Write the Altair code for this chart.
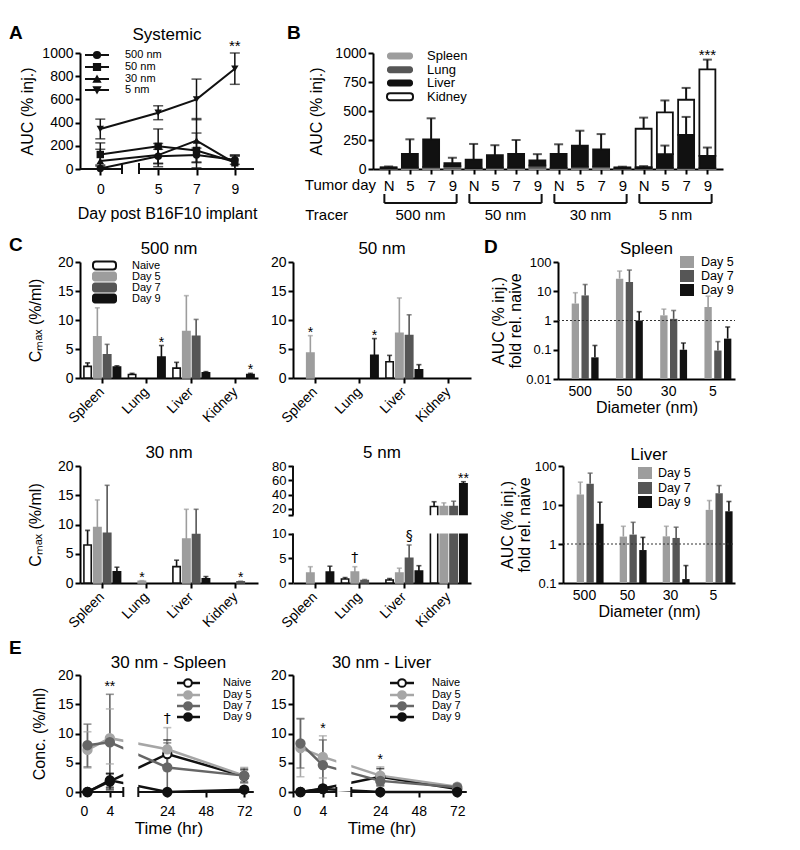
import altair as alt
import pandas as pd

FONT = "Liberation Sans"
SYMFONT = "DejaVu Sans"
WHITE = "#ffffff"
LIGHT = "#9d9d9d"
DARK = "#565656"
BLACK = "#111111"

# ---------------- Panel A : systemic AUC ----------------
A_days = [0, 5, 7, 9]
A_series = ["500 nm", "50 nm", "30 nm", "5 nm"]
A_shapes = ["circle", "square", "triangle-up", "triangle-down"]
A_mean_500 = [5, 110, 120, 80]
A_sd_500 = [30, 60, 60, 40]
A_mean_50 = [125, 195, 160, 60]
A_sd_50 = [100, 150, 150, 60]
A_mean_30 = [70, 120, 245, 50]
A_sd_30 = [100, 100, 190, 60]
A_mean_5 = [345, 485, 600, 865]
A_sd_5 = [85, 60, 175, 135]
A_marks = [("5 nm", 9, "**")]

# ---------------- Panel B : organ AUC stacked ----------------
B_tracers = ["500 nm", "50 nm", "30 nm", "5 nm"]
B_days = ["N", "5", "7", "9"]
B_organs = ["Spleen", "Lung", "Liver", "Kidney"]
B_spleen = [3, 8, 10, 5, 3, 8, 8, 10, 5, 10, 12, 2, 3, 5, 5, 3]
B_lung = [2, 5, 8, 20, 5, 5, 5, 20, 5, 10, 10, 3, 2, 5, 5, 5]
B_liver = [10, 118, 238, 26, 72, 106, 118, 44, 121, 182, 148, 9, 10, 118, 285, 106]
B_kidney = [0, 0, 0, 0, 0, 0, 0, 0, 0, 0, 0, 0, 332, 361, 302, 744]
B_liver_err = [None] * 12 + [25, 202, 449, 185]
B_total_err = [22, 256, 437, 97, 216, 205, 250, 128, 213, 330, 301, 20, 443, 591, 699, 943]
B_marks = [(15, "***")]

# ---------------- Panel C : Cmax ----------------
C_organs = ["Spleen", "Lung", "Liver", "Kidney"]
C_groups = ["Naive", "Day 5", "Day 7", "Day 9"]
C500 = {"Naive": [2.0, 0.6, 1.7, None], "Day 5": [7.1, None, 8.0, None],
        "Day 7": [4.0, None, 7.2, None], "Day 9": [1.9, 3.6, 0.9, 0.6]}
C500_err = {"Naive": [2.6, 0.8, 2.7, None], "Day 5": [12.1, None, 14.2, None],
            "Day 7": [5.8, None, 10.1, None], "Day 9": [2.1, 5.6, 1.1, 0.8]}
C500_marks = [("Lung", "Day 9", "*"), ("Kidney", "Day 9", "*")]
C50 = {"Naive": [None, None, 2.8, None], "Day 5": [4.3, None, 7.7, None],
       "Day 7": [None, None, 7.3, None], "Day 9": [None, 3.9, 1.4, None]}
C50_err = {"Naive": [None, None, 3.9, None], "Day 5": [7.3, None, 13.8, None],
           "Day 7": [None, None, 10.9, None], "Day 9": [None, 6.8, 2.3, None]}
C50_marks = [("Spleen", "Day 5", "*"), ("Lung", "Day 9", "*")]
C30 = {"Naive": [6.5, None, 2.8, None], "Day 5": [9.5, 0.3, 7.5, None],
       "Day 7": [8.5, None, 8.3, 0.2], "Day 9": [1.9, None, 0.7, None]}
C30_err = {"Naive": [9.0, None, 3.9, None], "Day 5": [14.2, 0.4, 12.6, None],
           "Day 7": [16.7, None, 12.6, 0.3], "Day 9": [2.7, None, 1.1, None]}
C30_marks = [("Lung", "Day 5", "*"), ("Kidney", "Day 7", "*")]
C5 = {"Naive": [None, 0.8, 0.6, 23.3], "Day 5": [2.0, 2.2, 2.0, 23.3],
      "Day 7": [None, 0.5, 5.0, 23.3], "Day 9": [2.2, None, 2.4, 55.0]}
C5_err = {"Naive": [None, 1.1, 0.9, 30.0], "Day 5": [3.3, 3.3, 3.0, 28.4],
          "Day 7": [None, 0.7, 7.7, 30.7], "Day 9": [3.4, None, 3.5, 58.0]}
C5_marks = [("Lung", "Day 5", "†"), ("Liver", "Day 7", "§"), ("Kidney", "Day 9", "**")]

# ---------------- Panel D : fold vs naive (log) ----------------
D_diam = ["500", "50", "30", "5"]
D_days = ["Day 5", "Day 7", "Day 9"]
D_spleen = {"Day 5": [3.8, 27, 1.5, 2.9], "Day 7": [7.2, 20.6, 1.14, 0.094], "Day 9": [0.055, 1.0, 0.1, 0.24]}
D_spleen_err = {"Day 5": [8.9, 49, 2.45, 6.8], "Day 7": [17, 53, 2.2, 0.19], "Day 9": [0.14, 2.0, 0.17, 0.6]}
D_liver = {"Day 5": [18.5, 1.55, 1.57, 7.5], "Day 7": [35, 1.74, 1.43, 20], "Day 9": [3.3, 0.7, 0.126, 6.9]}
D_liver_err = {"Day 5": [38.5, 2.85, 2.85, 13], "Day 7": [65.6, 3.6, 2.7, 31.5], "Day 9": [11.8, 1.48, 0.28, 12.3]}

# ---------------- Panel E : 30 nm time courses ----------------
E_times = [1, 4, 24, 72]
E_groups = ["Naive", "Day 5", "Day 7", "Day 9"]
Esp_mean = {"Naive": [0, 1.8, 6.5, 2.7], "Day 5": [7.2, 9.2, 7.3, 2.8],
            "Day 7": [8.0, 8.5, 4.2, 2.8], "Day 9": [0, 2.0, 0, 0.4]}
Esp_lo = {"Naive": [0, 0.5, 4.2, 1.6], "Day 5": [4.1, 4.8, 3.6, 1.5],
          "Day 7": [4.3, 0.3, 0, 1.8], "Day 9": [0, 0.8, 0, 0]}
Esp_hi = {"Naive": [0, 3.1, 8.9, 3.8], "Day 5": [10.3, 14.2, 11.0, 4.2],
          "Day 7": [11.6, 16.7, 8.4, 4.0], "Day 9": [0, 3.2, 0, 0.9]}
Esp_marks = [(4, "**"), (24, "†")]
Elv_mean = {"Naive": [0, 0.6, 2.6, 0.5], "Day 5": [7.5, 6.0, 2.8, 0.9],
            "Day 7": [8.3, 4.6, 1.9, 0.8], "Day 9": [0, 0.5, 0, 0]}
Elv_lo = {"Naive": [0, 0.2, 1.2, 0.1], "Day 5": [2.6, 2.4, 1.5, 0.4],
          "Day 7": [4.1, 0.4, 1.0, 0.3], "Day 9": [0, 0, 0, 0]}
Elv_hi = {"Naive": [0, 1.0, 4.0, 0.9], "Day 5": [12.6, 9.6, 4.3, 1.4],
          "Day 7": [12.5, 8.9, 2.9, 1.3], "Day 9": [0, 1.1, 0, 0]}
Elv_marks = [(4, "*"), (24, "*")]

# ---------------- styles ----------------
B_FILL = {"Spleen": LIGHT, "Lung": DARK, "Liver": BLACK, "Kidney": WHITE}
B_STROKE = {"Spleen": LIGHT, "Lung": DARK, "Liver": BLACK, "Kidney": BLACK}
C_FILL = {"Naive": WHITE, "Day 5": LIGHT, "Day 7": DARK, "Day 9": BLACK}
C_STROKE = {"Naive": BLACK, "Day 5": LIGHT, "Day 7": DARK, "Day 9": BLACK}
D_FILL = {"Day 5": LIGHT, "Day 7": DARK, "Day 9": BLACK}
E_LINE = {"Naive": BLACK, "Day 5": "#a6a6a6", "Day 7": "#666666", "Day 9": BLACK}
E_FILL = {"Naive": WHITE, "Day 5": "#a6a6a6", "Day 7": "#666666", "Day 9": BLACK}


# ---------------- helpers ----------------
def one(s="x"):
    return pd.DataFrame({"t": [s]})


def label(s, x, y, size=14, align="left", weight="normal", baseline="middle"):
    return alt.Chart(one(s)).mark_text(align=align, baseline=baseline, fontSize=size,
                                       fontWeight=weight, font=FONT, color="black").encode(
        text="t:N", x=alt.value(x), y=alt.value(y))


def swatch(x0, x1, yc, h, fill, stroke=None, sw=0, radius=0):
    kw = dict(fill=fill, cornerRadius=radius)
    if stroke:
        kw.update(stroke=stroke, strokeWidth=sw)
    return alt.Chart(one()).mark_rect(**kw).encode(
        x=alt.value(x0), x2=alt.value(x1), y=alt.value(yc - h / 2), y2=alt.value(yc + h / 2))


def hline(x0, x1, y, color=BLACK, sw=2):
    return alt.Chart(one()).mark_rule(color=color, strokeWidth=sw).encode(
        x=alt.value(x0), x2=alt.value(x1), y=alt.value(y))


def marker(x, y, shape, fill, stroke, size=55, sw=1.5):
    return alt.Chart(one()).mark_point(shape=shape, filled=True, fill=fill, stroke=stroke,
                                       strokeWidth=sw, size=size, opacity=1).encode(
        x=alt.value(x), y=alt.value(y))


def frame(W, H, L, R, T, Bt):
    # invisible box that fixes the panel's layout bounds
    return alt.Chart(one()).mark_rect(opacity=0).encode(
        x=alt.value(-L), x2=alt.value(W + R), y=alt.value(-T), y2=alt.value(H + Bt))


def ptitle(s, W, base):
    return label(s, W / 2, -base, size=17, align="center", baseline="alphabetic")


def letter(s, x, y):
    return label(s, x, y, size=19, weight="bold")


def colour(name):
    return dict(scale=None, legend=None, field=name, type="nominal")


# ---------------- Panel A ----------------
rows = []
for s, m, sd in zip(A_series, [A_mean_500, A_mean_50, A_mean_30, A_mean_5],
                    [A_sd_500, A_sd_50, A_sd_30, A_sd_5]):
    for d, v, e in zip(A_days, m, sd):
        rows.append({"series": s, "day": d, "mean": v, "lo": max(v - e, 0), "hi": v + e})
dfA = pd.DataFrame(rows)
A_W, A_H = 174, 116
A_xs = alt.Scale(domain=[-1, 1.07, 4, 10], range=[0, 42, 59, A_W])
A_xaxis = alt.Axis(values=A_days, domain=False, tickSize=6, labelPadding=7,
                   title="Day post B16F10 implant", titlePadding=9)
A_ys = alt.Scale(domain=[0, 1000])
A_yaxis = alt.Axis(values=[0, 200, 400, 600, 800, 1000], format="d", title="AUC (% inj.)", titlePadding=6)


def ax(f):
    return alt.X(f"{f}:Q", scale=A_xs, axis=A_xaxis)


def ay(f):
    return alt.Y(f"{f}:Q", scale=A_ys, axis=A_yaxis)


bA = alt.Chart(dfA)
A_layers = [
    frame(A_W, A_H, 72, 26, 45, 67),
    bA.mark_rule(color=BLACK, strokeWidth=1.5).encode(x=ax("day"), y=ay("lo"), y2="hi:Q"),
    bA.mark_tick(orient="horizontal", size=10, thickness=1.5, color=BLACK).encode(x=ax("day"), y=ay("hi")),
    bA.transform_filter("datum.lo > 0").mark_tick(orient="horizontal", size=10, thickness=1.5,
                                                  color=BLACK).encode(x=ax("day"), y=ay("lo")),
    bA.mark_line(color=BLACK, strokeWidth=2).encode(x=ax("day"), y=ay("mean"), detail="series:N"),
    bA.mark_point(filled=True, size=55, color=BLACK, opacity=1).encode(
        x=ax("day"), y=ay("mean"),
        shape=alt.Shape("series:N", scale=alt.Scale(domain=A_series, range=A_shapes), legend=None)),
    alt.Chart(pd.DataFrame({"a": [-1, 4], "b": [1.07, 10]})).mark_rule(color=BLACK, strokeWidth=2).encode(
        x=ax("a"), x2="b:Q", y=alt.value(A_H)),
    alt.Chart(pd.DataFrame({"a": [1.07, 4]})).mark_rule(color=BLACK, strokeWidth=2).encode(
        x=ax("a"), y=alt.value(A_H - 6), y2=alt.value(A_H + 5)),
]
for s, d, t in A_marks:
    hi = float(dfA[(dfA.series == s) & (dfA.day == d)].hi.iloc[0])
    A_layers.append(alt.Chart(pd.DataFrame({"day": [d], "hi": [hi], "t": [t]})).mark_text(
        baseline="alphabetic", dy=-2, fontSize=15, font=FONT, color="black").encode(
        x=ax("day"), y=ay("hi"), text="t:N"))
for i, s in enumerate(A_series):
    yy = [2, 14, 26, 37][i]
    A_layers += [hline(5, 29, yy), marker(17, yy, A_shapes[i], BLACK, BLACK, size=45),
                 label(s, 45, yy, size=11)]
A_layers += [letter("A", -71, -20), ptitle("Systemic", A_W, 13)]
A_chart = alt.layer(*A_layers).properties(width=A_W, height=A_H)

# ---------------- Panel B ----------------
segs, errs = [], []
for i in range(16):
    parts = [B_spleen[i], B_lung[i], B_liver[i], B_kidney[i]]
    base = 0
    for org, v in zip(B_organs, parts):
        if v > 0:
            segs.append({"idx": i, "organ": org, "y0": base, "y1": base + v,
                         "fillc": B_FILL[org], "strokec": B_STROKE[org]})
        base += v
    errs.append({"idx": i, "lo": base, "hi": B_total_err[i]})
    if B_liver_err[i] is not None:
        errs.append({"idx": i, "lo": B_spleen[i] + B_lung[i] + B_liver[i], "hi": B_liver_err[i]})
dfB, dfBe = pd.DataFrame(segs), pd.DataFrame(errs)
B_W, B_H = 350, 116
B_xs = alt.Scale(domain=[-0.5, 15.5])
B_xaxis = alt.Axis(values=list(range(16)), labelExpr="['N','5','7','9'][datum.value % 4]", title=None,
                   tickSize=5, labelPadding=4, labelFontSize=15)
B_ys = alt.Scale(domain=[0, 1000])
B_yaxis = alt.Axis(values=[0, 250, 500, 750, 1000], format="d", title="AUC (% inj.)", titlePadding=10)


def bx(f):
    return alt.X(f"{f}:Q", scale=B_xs, axis=B_xaxis)


def by(f):
    return alt.Y(f"{f}:Q", scale=B_ys, axis=B_yaxis)


B_layers = [
    frame(B_W, B_H, 93, 60, 45, 67),
    alt.Chart(dfB).mark_bar(size=16, strokeWidth=1.8).encode(
        x=bx("idx"), y=by("y0"), y2="y1:Q",
        fill=alt.Fill(**colour("fillc")), stroke=alt.Stroke(**colour("strokec"))),
    alt.Chart(dfBe).mark_rule(color=BLACK, strokeWidth=2).encode(x=bx("idx"), y=by("lo"), y2="hi:Q"),
    alt.Chart(dfBe).mark_tick(orient="horizontal", size=9, thickness=2, color=BLACK).encode(
        x=bx("idx"), y=by("hi")),
]
for i, t in B_marks:
    B_layers.append(alt.Chart(pd.DataFrame({"idx": [i], "hi": [B_total_err[i]], "t": [t]})).mark_text(
        baseline="alphabetic", dy=0, fontSize=15, font=FONT, color="black").encode(
        x=bx("idx"), y=by("hi"), text="t:N"))
dfBr = pd.DataFrame({"a": [4 * g - 0.2 for g in range(4)], "b": [4 * g + 3.2 for g in range(4)],
                     "c": [4 * g + 1.5 for g in range(4)], "name": B_tracers})
B_layers += [
    alt.Chart(dfBr).mark_rule(color=BLACK, strokeWidth=2).encode(x=bx("a"), x2="b:Q", y=alt.value(B_H + 34)),
    alt.Chart(dfBr).mark_rule(color=BLACK, strokeWidth=2).encode(
        x=bx("a"), y=alt.value(B_H + 25), y2=alt.value(B_H + 34)),
    alt.Chart(dfBr).mark_rule(color=BLACK, strokeWidth=2).encode(
        x=bx("b"), y=alt.value(B_H + 25), y2=alt.value(B_H + 34)),
    alt.Chart(dfBr).mark_text(fontSize=15, font=FONT, color="black", baseline="middle").encode(
        x=bx("c"), y=alt.value(B_H + 46), text="name:N"),
    label("Tumor day", 3, B_H + 16, size=15, align="right"),
    label("Tracer", -25, B_H + 46, size=15, align="right"),
]
for i, org in enumerate(B_organs):
    yy = [3, 16.7, 30, 43.7][i]
    if org == "Kidney":
        B_layers.append(swatch(14, 40, yy, 7, WHITE, BLACK, 2, 3))
    else:
        B_layers.append(swatch(14, 40, yy, 7, B_FILL[org], None, 0, 3))
    B_layers.append(label(org, 54, yy, size=13))
B_layers.append(letter("B", -86, -20))
B_chart = alt.layer(*B_layers).properties(width=B_W, height=B_H)


# ---------------- Panel C ----------------
def make_C(title, vals, errv, marks, ytitle, legend, let, H, box, broken=False):
    W = 178
    rows = []
    for g in C_groups:
        for o, v, e in zip(C_organs, vals[g], errv[g]):
            if v is not None:
                rows.append({"organ": o, "group": g, "val": v, "err": e,
                             "fillc": C_FILL[g], "strokec": C_STROKE[g]})
    df = pd.DataFrame(rows)
    xenc = alt.X("organ:N", sort=C_organs,
                 scale=alt.Scale(domain=C_organs, paddingInner=0, paddingOuter=0),
                 axis=alt.Axis(labels=False, title=None, tickSize=5))
    xo = alt.XOffset("group:N", sort=C_groups,
                     scale=alt.Scale(domain=C_groups, paddingInner=0.25, paddingOuter=0.4))
    if broken:
        ys = alt.Scale(domain=[0, 10, 11, 80], range=[H, 67.6, 49.3, 0])
        yaxis = alt.Axis(values=[0, 5, 10, 11, 20, 40, 60, 80], domain=False, tickCount=20,
                         labelOverlap=False, labelFontSize=13,
                         labelExpr="datum.value == 11 ? '' : datum.label",
                         title="Cₘₐₓ (%/ml)" if ytitle else None, titlePadding=14)
    else:
        ys = alt.Scale(domain=[0, 20])
        yaxis = alt.Axis(values=[0, 5, 10, 15, 20], title="Cₘₐₓ (%/ml)" if ytitle else None, titlePadding=14)

    def cy(f):
        return alt.Y(f"{f}:Q", scale=ys, axis=yaxis)

    b = alt.Chart(df)
    layers = [
        frame(W, H, *box),
        b.mark_bar(strokeWidth=1.6).encode(
            x=xenc, xOffset=xo, y=cy("val"),
            fill=alt.Fill(**colour("fillc")), stroke=alt.Stroke(**colour("strokec"))),
        b.mark_rule(strokeWidth=1.6).encode(
            x=xenc, xOffset=xo, y=cy("val"), y2="err:Q", color=alt.Color(**colour("strokec"))),
        b.mark_tick(orient="horizontal", size=5, thickness=1.6).encode(
            x=xenc, xOffset=xo, y=cy("err"), color=alt.Color(**colour("strokec"))),
        alt.Chart(pd.DataFrame({"organ": C_organs})).mark_text(
            angle=315, align="right", baseline="middle", fontSize=14, font=FONT, color="black").encode(
            x=xenc, y=alt.value(H + 12), text="organ:N"),
    ]
    if broken:
        layers += [
            alt.Chart(one()).mark_rect(color="white").encode(
                x=alt.value(1), x2=alt.value(W), y=alt.datum(10), y2=alt.datum(11)),
            alt.Chart(one()).mark_rule(color=BLACK, strokeWidth=2).encode(
                x=alt.value(0), y=alt.datum(0), y2=alt.datum(10)),
            alt.Chart(one()).mark_rule(color=BLACK, strokeWidth=2).encode(
                x=alt.value(0), y=alt.datum(11), y2=alt.datum(80)),
        ]
    mrows = []
    for o, g, t in marks:
        e = errv[g][C_organs.index(o)]
        mrows.append({"organ": o, "group": g, "err": e, "t": t})
    dfm = pd.DataFrame(mrows)
    for sel, dy, fnt in [("datum.t == '*' || datum.t == '**'", 1, FONT),
                         ("datum.t != '*' && datum.t != '**'", -5, SYMFONT)]:
        layers.append(alt.Chart(dfm).transform_filter(sel).mark_text(
            baseline="alphabetic", dy=dy, fontSize=14, font=fnt, color="black").encode(
            x=xenc, xOffset=xo, y=cy("err"), text="t:N"))
    if legend:
        for i, g in enumerate(C_groups):
            yy = [3.5, 14.5, 25.5, 36.5][i]
            if g == "Naive":
                layers.append(swatch(13, 36, yy, 8, WHITE, BLACK, 2, 3))
            else:
                layers.append(swatch(12, 37, yy, 10, C_FILL[g], None, 0, 3))
            layers.append(label(g, 52, yy, size=11))
    if let:
        layers.append(letter(let, -71, -17))
    layers.append(ptitle(title, W, 8))
    return alt.layer(*layers).properties(width=W, height=H)


C500_chart = make_C("500 nm", C500, C500_err, C500_marks, True, True, "C", 116, (72, 10, 26, 62))
C50_chart = make_C("50 nm", C50, C50_err, C50_marks, False, False, None, 116, (25, 9, 26, 62))
C30_chart = make_C("30 nm", C30, C30_err, C30_marks, True, False, None, 117, (72, 10, 26, 55))
C5_chart = make_C("5 nm", C5, C5_err, C5_marks, False, False, None, 117, (25, 9, 26, 55), broken=True)


# ---------------- Panel D ----------------
def make_D(title, vals, errv, ydom, W, leg_x0, leg_ys, leg_xt, let, toff, box):
    H = 117
    rows = []
    for g in D_days:
        for d, v, e in zip(D_diam, vals[g], errv[g]):
            rows.append({"diam": d, "day": g, "val": v, "err": e, "base": ydom[0], "fillc": D_FILL[g]})
    df = pd.DataFrame(rows)
    xenc = alt.X("diam:N", sort=D_diam, scale=alt.Scale(domain=D_diam, paddingInner=0, paddingOuter=0),
                 axis=alt.Axis(labelAngle=0, ticks=False, labelPadding=5, title="Diameter (nm)",
                               titlePadding=1, labelFontSize=14))
    xo = alt.XOffset("day:N", sort=D_days, scale=alt.Scale(domain=D_days, paddingInner=0.25, paddingOuter=0.46))
    yvals = [v for v in [0.01, 0.1, 1, 10, 100] if v >= ydom[0]]
    ys = alt.Scale(type="log", domain=ydom)
    yaxis = alt.Axis(values=yvals, format="~g", title=["AUC (% inj.)", "fold rel. naive"],
                     titlePadding=2, titleLineHeight=17, labelFontSize=13)

    def dy_(f):
        return alt.Y(f"{f}:Q", scale=ys, axis=yaxis)

    b = alt.Chart(df)
    layers = [
        frame(W, H, *box),
        b.mark_bar().encode(x=xenc, xOffset=xo, y=dy_("val"), y2="base:Q",
                            fill=alt.Fill(**colour("fillc"))),
        b.mark_rule(strokeWidth=1.6).encode(x=xenc, xOffset=xo, y=dy_("val"), y2="err:Q",
                                            color=alt.Color(**colour("fillc"))),
        b.mark_tick(orient="horizontal", size=5, thickness=1.6).encode(
            x=xenc, xOffset=xo, y=dy_("err"), color=alt.Color(**colour("fillc"))),
        alt.Chart(one()).mark_rule(color="#333333", strokeWidth=1.2, strokeDash=[2, 2]).encode(
            x=alt.value(0), x2=alt.value(W), y=alt.datum(1)),
    ]
    for i, g in enumerate(D_days):
        layers.append(swatch(leg_x0, leg_x0 + 14, leg_ys[i], 12, D_FILL[g]))
        layers.append(label(g, leg_xt, leg_ys[i], size=12.5))
    if let:
        layers.append(letter(let, -74, -15))
    layers.append(ptitle(title, W, toff))
    return alt.layer(*layers).properties(width=W, height=H)


Dsp_chart = make_D("Spleen", D_spleen, D_spleen_err, [0.01, 100], 177, 122, [0, 14, 28], 143, "D", 8,
                   (78, 57, 26, 61))
Dlv_chart = make_D("Liver", D_liver, D_liver_err, [0.1, 100], 172, 75, [7, 22, 36], 95, None, 6,
                   (83, 57, 26, 55))


# ---------------- Panel E ----------------
def make_E(title, mean, lo, hi, marks, ytitle, leg, let, box):
    W, H = 177, 117
    rows = []
    for g in E_groups:
        for t, m, l, h in zip(E_times, mean[g], lo[g], hi[g]):
            rows.append({"group": g, "time": t, "m": m, "lo": l, "hi": h,
                         "linec": E_LINE[g], "fillc": E_FILL[g]})
    df = pd.DataFrame(rows)
    xs = alt.Scale(domain=[0, 5.8, 5.9, 78], range=[0, 43.3, 58.3, W])
    xaxis = alt.Axis(values=[0, 4, 24, 48, 72], domain=False, tickSize=5, labelPadding=7,
                     title="Time (hr)", titlePadding=2, titleFontSize=17)
    ys = alt.Scale(domain=[0, 20])
    yaxis = alt.Axis(values=[0, 5, 10, 15, 20], title="Conc. (%/ml)" if ytitle else None, titlePadding=10)

    def ex(f):
        return alt.X(f"{f}:Q", scale=xs, axis=xaxis)

    def ey(f):
        return alt.Y(f"{f}:Q", scale=ys, axis=yaxis)

    b = alt.Chart(df)
    eb = b.transform_filter("datum.hi > datum.lo")
    col = alt.Color(**colour("linec"))
    layers = [
        frame(W, H, *box),
        eb.mark_rule(strokeWidth=1.6).encode(x=ex("time"), y=ey("lo"), y2="hi:Q", color=col, detail="group:N"),
        eb.mark_tick(orient="horizontal", size=8, thickness=1.6).encode(x=ex("time"), y=ey("hi"), color=col),
        eb.transform_filter("datum.lo > 0").mark_tick(orient="horizontal", size=8, thickness=1.6).encode(
            x=ex("time"), y=ey("lo"), color=col),
        b.mark_line(strokeWidth=2.5).encode(x=ex("time"), y=ey("m"), color=col, detail="group:N"),
        b.mark_point(filled=True, size=70, strokeWidth=2, opacity=1).encode(
            x=ex("time"), y=ey("m"), fill=alt.Fill(**colour("fillc")), stroke=alt.Stroke(**colour("linec"))),
        alt.Chart(one()).mark_rect(color="white").encode(
            x=alt.datum(5.8), x2=alt.datum(5.9), y=alt.value(0), y2=alt.value(H - 1)),
        alt.Chart(pd.DataFrame({"a": [0, 5.9], "b": [5.8, 78]})).mark_rule(color=BLACK, strokeWidth=2).encode(
            x=ex("a"), x2="b:Q", y=alt.value(H)),
        alt.Chart(pd.DataFrame({"a": [5.8, 5.9]})).mark_rule(color=BLACK, strokeWidth=2).encode(
            x=ex("a"), y=alt.value(H - 5), y2=alt.value(H + 5)),
    ]
    mrows = []
    for t, s in marks:
        k = E_times.index(t)
        mrows.append({"time": t, "top": max(hi[g][k] for g in E_groups), "t": s})
    dfm = pd.DataFrame(mrows)
    layers.append(alt.Chart(dfm).transform_filter("datum.t == '*' || datum.t == '**'").mark_text(
        baseline="alphabetic", dy=-3, fontSize=14, font=FONT, color="black").encode(
        x=ex("time"), y=ey("top"), text="t:N"))
    layers.append(alt.Chart(dfm).transform_filter("datum.t != '*' && datum.t != '**'").mark_text(
        baseline="alphabetic", dy=-5, fontSize=14, font=SYMFONT, color="black").encode(
        x=ex("time"), y=ey("top"), text="t:N"))
    lx0, lx1, lxm, lxt = leg
    for i, g in enumerate(E_groups):
        yy = [8, 20, 31, 42][i]
        layers += [hline(lx0, lx1, yy, E_LINE[g], 2.5),
                   marker(lxm, yy, "circle", E_FILL[g], E_LINE[g], size=60, sw=2),
                   label(g, lxt, yy, size=11)]
    if let:
        layers.append(letter(let, -71, -27))
    layers.append(ptitle(title, W, 7))
    return alt.layer(*layers).properties(width=W, height=H)


Esp_chart = make_E("30 nm - Spleen", Esp_mean, Esp_lo, Esp_hi, Esp_marks, True, (97, 120, 108, 143), "E",
                   (72, 11, 37, 53))
Elv_chart = make_E("30 nm - Liver", Elv_mean, Elv_lo, Elv_hi, Elv_marks, False, (97, 121, 109, 139), None,
                   (25, 10, 37, 53))

# ---------------- layout ----------------
row1 = alt.hconcat(A_chart, B_chart, spacing=0)
row2 = alt.hconcat(C500_chart, C50_chart, Dsp_chart, spacing=0)
row3 = alt.hconcat(C30_chart, C5_chart, Dlv_chart, spacing=0)
row4 = alt.hconcat(Esp_chart, Elv_chart, spacing=0)
chart = alt.vconcat(row1, row2, row3, row4, spacing=0).properties(
    padding={"left": 0, "top": 0, "right": 0, "bottom": 0}, background="white"
).configure(font=FONT).configure_view(stroke=None).configure_axis(
    domainColor="black", domainWidth=2, tickColor="black", tickWidth=2, labelColor="black",
    titleColor="black", labelFont=FONT, titleFont=FONT, labelFontSize=14, titleFontSize=16,
    titleFontWeight="normal", grid=False
)

chart.save("out.html", embed_options={"renderer": "svg", "actions": False})
